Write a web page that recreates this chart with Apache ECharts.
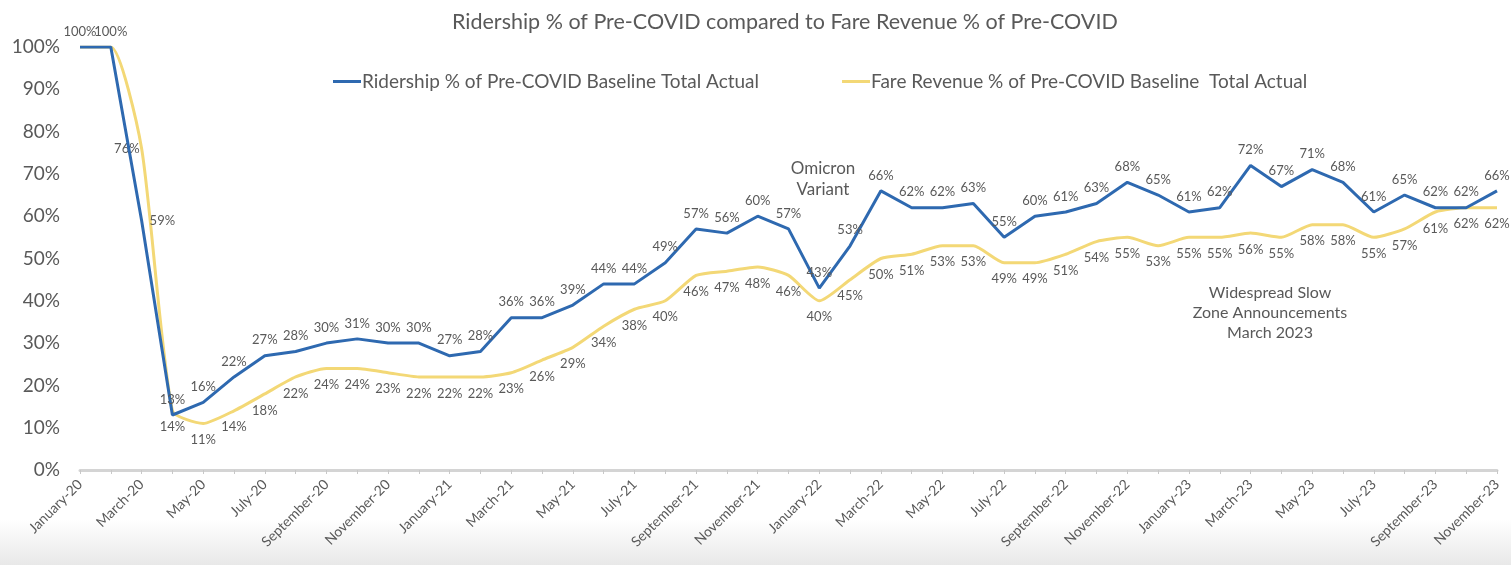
<!DOCTYPE html>
<html>
<head>
<meta charset="utf-8">
<script src="https://cdn.jsdelivr.net/npm/echarts@6/dist/echarts.min.js"></script>
<style>
  html, body { margin: 0; padding: 0; background: #fff; }
  #main { width: 1511px; height: 565px; }
</style>
</head>
<body>
<div id="main"></div>
<script>
// months Jan-20 .. Nov-23
var monthNames = ['January', 'February', 'March', 'April', 'May', 'June', 'July', 'August', 'September', 'October', 'November', 'December'];
var categories = [];
for (var y = 20; y <= 23; y++) {
  for (var m = 0; m < 12; m++) {
    if (y === 23 && m > 10) break;
    categories.push(monthNames[m] + '-' + y);
  }
}

// Ridership % of Pre-COVID baseline
var ridership = [100, 100, 59, 13, 16, 22, 27, 28, 30, 31, 30, 30,
  27, 28, 36, 36, 39, 44, 44, 49, 57, 56, 60, 57,
  43, 53, 66, 62, 62, 63, 55, 60, 61, 63, 68, 65,
  61, 62, 72, 67, 71, 68, 61, 65, 62, 62, 66];

// Fare revenue % of Pre-COVID baseline
var fareRevenue = [100, 100, 76, 14, 11, 14, 18, 22, 24, 24, 23, 22,
  22, 22, 23, 26, 29, 34, 38, 40, 46, 47, 48, 46,
  40, 45, 50, 51, 53, 53, 49, 49, 51, 54, 55, 53,
  55, 55, 56, 55, 58, 58, 55, 57, 61, 62, 62];

var yTicks = [0, 10, 20, 30, 40, 50, 60, 70, 80, 90, 100];

var FONT = 'Lato';
var GREY = '#595959';

var myChart = echarts.init(document.getElementById('main'));

// per-point label tweaks
var blueData = ridership.map(function (v, i) {
  if (i === 2) return { value: v, label: { position: 'right', distance: 8 } };
  return v;
});
var yellowData = fareRevenue.map(function (v, i) {
  if (i < 2) return { value: v, label: { show: false } };
  if (i === 2) return { value: v, label: { position: 'left', distance: 2 } };
  return v;
});

var option = {
  backgroundColor: '#fff',
  animation: false,
  title: {
    text: 'Ridership % of Pre-COVID compared to Fare Revenue % of Pre-COVID',
    left: 447,
    top: 6,
    textStyle: { fontFamily: FONT, fontSize: 21.5, fontWeight: 'normal', color: GREY }
  },
  legend: {
    left: 328,
    top: 67,
    itemGap: 83,
    itemWidth: 28,
    itemHeight: 3,
    icon: 'rect',
    textStyle: { fontFamily: FONT, fontSize: 19, color: GREY, padding: [0, 0, 0, -4] },
    data: ['Ridership % of Pre-COVID Baseline Total Actual', 'Fare Revenue % of Pre-COVID Baseline  Total Actual']
  },
  grid: { left: 80, right: 14, top: 47, bottom: 95, containLabel: false },
  xAxis: {
    type: 'category',
    data: categories,
    boundaryGap: false,
    axisLine: { lineStyle: { color: '#d4d4d4', width: 3 } },
    axisTick: { show: true, interval: 0, length: 4, inside: false, lineStyle: { color: '#c8c8c8' } },
    axisLabel: {
      interval: 1,
      rotate: 45,
      fontFamily: FONT,
      fontSize: 14,
      color: GREY,
      margin: 12
    },
    splitLine: { show: false }
  },
  yAxis: {
    type: 'value',
    min: 0,
    max: 100,
    interval: 10,
    axisLine: { show: false },
    axisTick: { show: false },
    splitLine: { show: false },
    axisLabel: {
      formatter: function (v) { return yTicks.indexOf(v) >= 0 ? v + '%' : ''; },
      fontFamily: FONT,
      fontSize: 19,
      color: GREY,
      margin: 20
    }
  },
  series: [
    {
      name: 'Ridership % of Pre-COVID Baseline Total Actual',
      type: 'line',
      data: blueData,
      symbol: 'circle',
      symbolSize: 0,
      showSymbol: true,
      z: 3,
      color: '#2E69B0',
      lineStyle: { width: 3, color: '#2E69B0' },
      label: {
        show: true,
        position: 'top',
        distance: 9,
        formatter: '{c}%',
        fontFamily: FONT,
        fontSize: 13,
        color: GREY
      }
    },
    {
      name: 'Fare Revenue % of Pre-COVID Baseline  Total Actual',
      type: 'line',
      data: yellowData,
      symbol: 'circle',
      symbolSize: 0,
      showSymbol: true,
      smooth: 0.2,
      z: 2,
      color: '#F3D876',
      lineStyle: { width: 3, color: '#F3D876' },
      label: {
        show: true,
        position: 'bottom',
        distance: 10,
        formatter: '{c}%',
        fontFamily: FONT,
        fontSize: 13,
        color: GREY
      }
    }
  ],
  graphic: [
    {
      type: 'rect',
      left: 0,
      top: 520,
      z: -1,
      shape: { width: 1511, height: 45 },
      style: {
        fill: new echarts.graphic.LinearGradient(0, 0, 0, 1, [
          { offset: 0, color: '#ffffff' },
          { offset: 1, color: '#e8e8e8' }
        ])
      }
    },
    {
      type: 'text',
      x: 823,
      y: 158,
      style: {
        text: 'Omicron\nVariant',
        align: 'center',
        fontFamily: FONT,
        fontSize: 17,
        lineHeight: 21,
        fill: GREY
      }
    },
    {
      type: 'text',
      x: 1270,
      y: 283,
      style: {
        text: 'Widespread Slow\nZone Announcements\nMarch 2023',
        align: 'center',
        fontFamily: FONT,
        fontSize: 16,
        lineHeight: 20,
        fill: GREY
      }
    }
  ]
};

myChart.setOption(option);
</script>
</body>
</html>
